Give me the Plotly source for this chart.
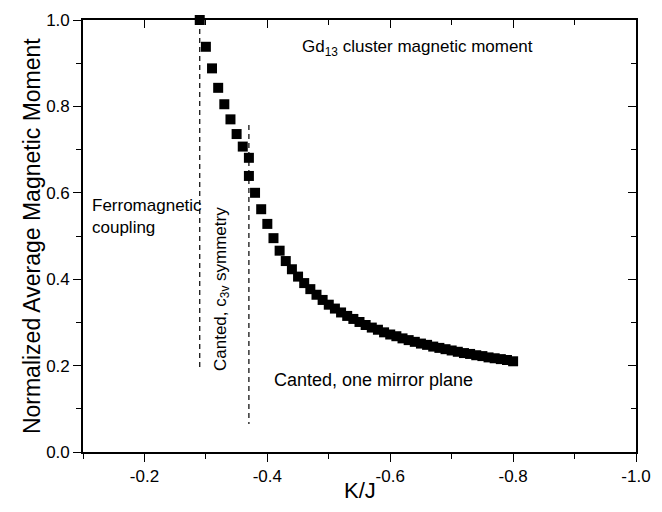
import plotly.graph_objects as go

# K/J values and normalized average magnetic moment
kj = [-0.29, -0.30, -0.31, -0.32, -0.33, -0.34, -0.35, -0.36, -0.37, -0.37,
      -0.38, -0.39, -0.40, -0.41, -0.42, -0.43, -0.44, -0.45, -0.46, -0.47,
      -0.48, -0.49, -0.50, -0.51, -0.52, -0.53, -0.54, -0.55, -0.56, -0.57,
      -0.58, -0.59, -0.60, -0.61, -0.62, -0.63, -0.64, -0.65, -0.66, -0.67,
      -0.68, -0.69, -0.70, -0.71, -0.72, -0.73, -0.74, -0.75, -0.76, -0.77,
      -0.78, -0.79, -0.80]
moment = [1.000, 0.938, 0.888, 0.843, 0.805, 0.770, 0.736, 0.707, 0.681, 0.639,
          0.600, 0.562, 0.528, 0.495, 0.466, 0.442, 0.423, 0.406, 0.391, 0.377,
          0.364, 0.352, 0.341, 0.332, 0.323, 0.315, 0.308, 0.301, 0.294, 0.288,
          0.283, 0.277, 0.272, 0.268, 0.263, 0.259, 0.255, 0.251, 0.248, 0.244,
          0.241, 0.238, 0.235, 0.232, 0.229, 0.227, 0.224, 0.222, 0.219, 0.217,
          0.215, 0.213, 0.210]

# Phase boundaries (dashed lines)
boundary1_x = [-0.29, -0.29]
boundary1_y = [1.0, 0.197]
boundary2_x = [-0.37, -0.37]
boundary2_y = [0.757, 0.065]

x_tickvals = [-0.2, -0.4, -0.6, -0.8, -1.0]
x_ticktext = ["-0.2", "-0.4", "-0.6", "-0.8", "-1.0"]
y_tickvals = [0.0, 0.2, 0.4, 0.6, 0.8, 1.0]
y_ticktext = ["0.0", "0.2", "0.4", "0.6", "0.8", "1.0"]

x_range = [-0.1, -1.0]
y_range = [0.0, 1.0]

FONT = "Liberation Sans, Arial, sans-serif"

fig = go.Figure()

for bx, by in [(boundary1_x, boundary1_y), (boundary2_x, boundary2_y)]:
    fig.add_trace(go.Scatter(x=bx, y=by, mode="lines",
                             line=dict(color="black", width=1.2, dash="5px,4px"),
                             showlegend=False, hoverinfo="skip"))

fig.add_trace(go.Scatter(x=kj, y=moment, mode="markers",
                         marker=dict(symbol="square", size=10, color="black",
                                     line=dict(width=0)),
                         cliponaxis=False, showlegend=False))

# dummy trace for mirrored axes with inward ticks
fig.add_trace(go.Scatter(x=[], y=[], xaxis="x2", yaxis="y2", showlegend=False))

tick_common = dict(showgrid=False, zeroline=False, tickcolor="black", tickwidth=1.4,
                   automargin=False)

# page body has an 8px margin: figure is sized to fit inside the 662x512 window
fig.update_layout(
    width=646, height=496,
    margin=dict(l=75, r=18, t=12, b=52),
    paper_bgcolor="white", plot_bgcolor="white",
    font=dict(family=FONT, color="black"),
    xaxis=dict(range=x_range, tickvals=x_tickvals, ticktext=x_ticktext,
               ticks="outside", ticklen=8, showline=True, mirror=True,
               linecolor="black", linewidth=1.6,
               tickfont=dict(size=17),
               minor=dict(dtick=0.1, tick0=0, ticks="outside", ticklen=5,
                          tickcolor="black", tickwidth=1.2),
               **tick_common),
    yaxis=dict(range=y_range, tickvals=y_tickvals, ticktext=y_ticktext,
               ticks="outside", ticklen=8, showline=True, mirror=True,
               linecolor="black", linewidth=1.6,
               tickfont=dict(size=17),
               minor=dict(dtick=0.1, tick0=0, ticks="outside", ticklen=5,
                          tickcolor="black", tickwidth=1.2),
               **tick_common),
    xaxis2=dict(range=x_range, overlaying="x", side="top", anchor="y2",
                tickvals=x_tickvals, showticklabels=False, ticks="inside",
                ticklen=8, showline=False,
                minor=dict(dtick=0.1, tick0=0, ticks="inside", ticklen=5,
                           tickcolor="black", tickwidth=1.2),
                **tick_common),
    yaxis2=dict(range=y_range, overlaying="y", side="right", anchor="x2",
                tickvals=y_tickvals, showticklabels=False, ticks="inside",
                ticklen=8, showline=False,
                minor=dict(dtick=0.1, tick0=0, ticks="inside", ticklen=5,
                           tickcolor="black", tickwidth=1.2),
                **tick_common),
)

# axis titles placed in paper coordinates
fig.add_annotation(xref="paper", yref="paper", x=0.5, y=-0.088, yanchor="middle",
                   text="K/J", showarrow=False, font=dict(size=22))
fig.add_annotation(xref="paper", yref="paper", x=-0.092, y=0.5, xanchor="center",
                   yanchor="middle",
                   text="Normalized Average Magnetic Moment", textangle=-90,
                   showarrow=False, font=dict(size=23))

annotations = [
    dict(x=-0.644, y=0.935, text="Gd<sub>13</sub> cluster magnetic moment",
         xanchor="center", yanchor="middle", font=dict(size=17)),
    dict(x=-0.111, y=0.545, text="Ferromagnetic<br>coupling", align="left",
         xanchor="left", yanchor="middle", font=dict(size=17)),
    dict(x=-0.326, y=0.377, text="Canted, c<sub>3v</sub> symmetry", textangle=-90,
         xanchor="center", yanchor="middle", font=dict(size=17)),
    dict(x=-0.572, y=0.167, text="Canted, one mirror plane",
         xanchor="center", yanchor="middle", font=dict(size=18)),
]
for a in annotations:
    fig.add_annotation(xref="x", yref="y", showarrow=False, **a)

fig.write_html("out.html")
